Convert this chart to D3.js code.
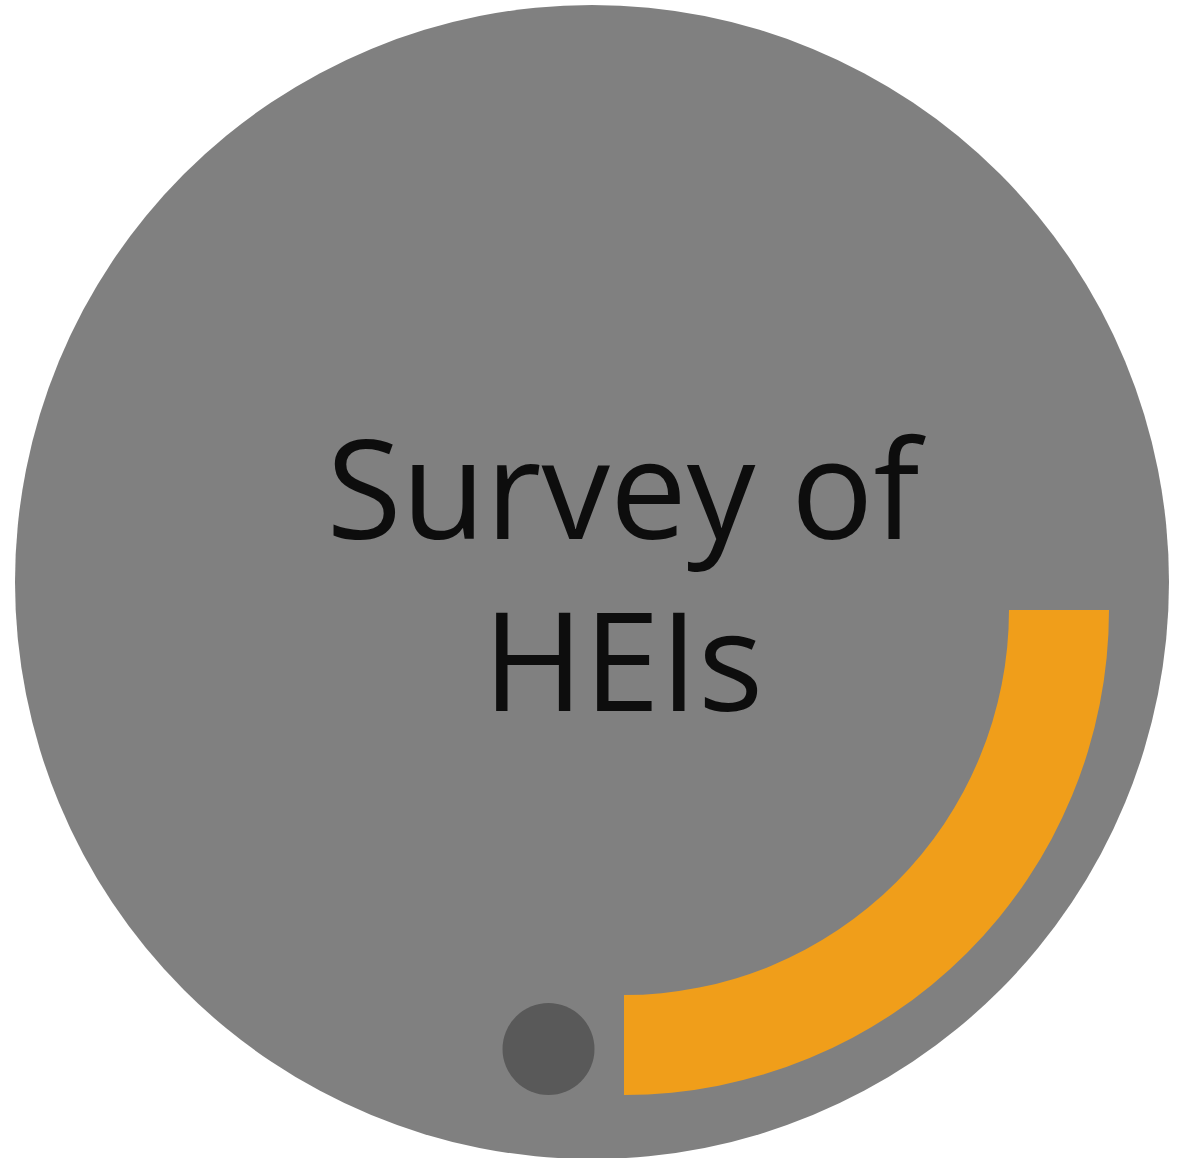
<!DOCTYPE html>
<html>
<head>
<meta charset="utf-8">
<script src="https://d3js.org/d3.v7.min.js"></script>
<style>
  body { margin: 0; background: #fff; }
</style>
</head>
<body>
<div id="chart"></div>
<script>
// values
var titleLines = ["Survey of", "HEIs"];
var progress = [0.25];          // share of the full turn covered by the orange band
var progressStart = [0.25];     // band starts at 3 o'clock
var markerValue = [1];          // the small dark dot

var width = 1187, height = 1158;

var svg = d3.select("#chart").append("svg")
    .attr("width", width)
    .attr("height", height);

// background disc
svg.append("circle")
    .attr("cx", 592)
    .attr("cy", 582)
    .attr("r", 577)
    .attr("fill", "#808080");

// fraction -> angle
var angle = d3.scaleLinear().domain([0, 1]).range([0, 2 * Math.PI]);

var arc = d3.arc()
    .innerRadius(385)
    .outerRadius(485);

svg.append("g")
    .attr("transform", "translate(624,610)")
    .selectAll("path")
    .data(progress)
    .join("path")
    .attr("d", function(d, i) {
        return arc({ startAngle: angle(progressStart[i]), endAngle: angle(progressStart[i] + d) });
    })
    .attr("fill", "#F09E1A");

// small dot
var r = d3.scaleSqrt().domain([0, 1]).range([0, 46]);
svg.selectAll("circle.dot")
    .data(markerValue)
    .join("circle")
    .attr("class", "dot")
    .attr("cx", 548.5)
    .attr("cy", 1049)
    .attr("r", function(d) { return r(d); })
    .attr("fill", "#595959");

// title
svg.append("text")
    .attr("text-anchor", "middle")
    .style("font-family", "'Open Sans', sans-serif")
    .style("font-size", "137px")
    .style("fill", "#0d0d0d")
    .selectAll("tspan")
    .data(titleLines)
    .join("tspan")
    .attr("x", 623)
    .attr("y", function(d, i) { return 539 + i * 172; })
    .text(function(d) { return d; });
</script>
</body>
</html>
